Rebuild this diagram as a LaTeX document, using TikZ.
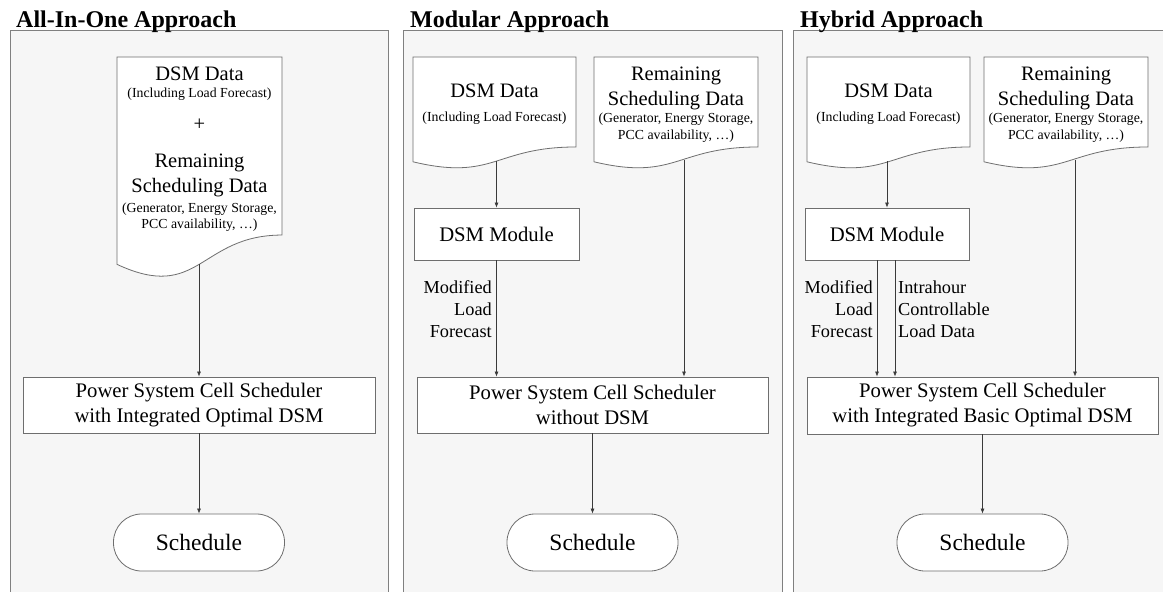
\documentclass[tikz,border=0pt]{standalone}
\usepackage{fontspec}
\setmainfont{Liberation Serif}
\usepackage{xcolor}
\usepackage{tikz}
\usetikzlibrary{positioning,arrows.meta}

\definecolor{panelfill}{HTML}{F6F6F6}
\definecolor{panelline}{HTML}{808080}
\definecolor{shapeline}{HTML}{6E6E6E}
\definecolor{arrowline}{HTML}{3A3A3A}

% document shape: left x, right x, height (top edge at y=57)
\newcommand{\docshape}[3]{%
  \draw [docline] (#1,57) -- (#2,57) -- (#2,{57+0.802*#3})
    .. controls ({(#1+#2)/2},{57+0.802*#3}) and ({(#1+#2)/2},{57+1.1075*#3}) .. (#1,{57+0.934*#3}) -- cycle;}

\begin{document}
\begin{tikzpicture}[x=1pt, y=-1pt,
    title/.style={anchor=base west, inner sep=0pt, font=\fontsize{24}{28}\selectfont\bfseries},
    bigline/.style={anchor=base, inner sep=0pt, font=\fontsize{20.5}{25}\selectfont},
    smallline/.style={anchor=base, inner sep=0pt, font=\fontsize{13.8}{17}\selectfont},
    lbl/.style={inner sep=0pt, font=\fontsize{18.3}{22}\selectfont},
    docline/.style={draw=shapeline, fill=white, line width=0.8pt},
    box/.style={draw=shapeline, fill=white, line width=0.8pt, inner sep=0pt, align=center,
      font=\fontsize{20.7}{25}\selectfont},
    terminal/.style={draw=shapeline, fill=white, line width=0.8pt, rounded corners=28pt,
      minimum width=171pt, minimum height=57pt, inner sep=0pt, font=\fontsize{23.5}{28}\selectfont},
    arr/.style={draw=arrowline, line width=0.7pt, -{Latex[length=5pt,width=4pt]}}]

    \useasboundingbox (0,0) rectangle (1163,592);

    % panels
    \fill [panelfill] (10,30) rectangle (388,592);
    \draw [panelline, line width=0.8pt] (10,592) -- (10,30) -- (388,30) -- (388,592);
    \fill [panelfill] (403,30) rectangle (782,592);
    \draw [panelline, line width=0.8pt] (403,592) -- (403,30) -- (782,30) -- (782,592);
    \fill [panelfill] (793,30) rectangle (1163,592);
    \draw [panelline, line width=0.8pt] (793,592) -- (793,30) -- (1163,30);

    \node [title] (ATitle) at (16,27) {All-In-One Approach};
    \node [title] (BTitle) at (410,27) {Modular Approach};
    \node [title] (CTitle) at (800,27) {Hybrid Approach};

    % all-in-one
    \docshape{117}{282}{222}
    \node [bigline] (ADocL1) at (199.5,80) {DSM Data};
    \node [smallline] (ADocL2) at (199.5,97) {(Including Load Forecast)};
    \node [bigline, anchor=center] (ADocPlus) at (199.5,125) {+};
    \node [bigline] (ADocL3) at (199.5,167) {Remaining};
    \node [bigline] (ADocL4) at (199.5,192) {Scheduling Data};
    \node [smallline] (ADocL5) at (199.5,212) {(Generator, Energy Storage,};
    \node [smallline] (ADocL6) at (199.5,228) {PCC availability, …)};
    \coordinate (ADocOut) at (199,264);

    \node [box, minimum width=352pt, minimum height=56pt] (ASch) at (199,405)
      {Power System Cell Scheduler\\with Integrated Optimal DSM};
    \node [terminal] (AOut) at (199,542.5) {Schedule};

    \draw [arr] (ADocOut) -- (ADocOut |- ASch.north);
    \draw [arr] (ASch.south) -- (AOut.north);

    % modular
    \docshape{413}{576}{112.2}
    \node [bigline] (BDoc1L1) at (494.5,97) {DSM Data};
    \node [smallline] (BDoc1L2) at (494.5,121) {(Including Load Forecast)};
    \coordinate (BDoc1Out) at (496.5,161);

    \docshape{594}{758}{112.2}
    \node [bigline] (BDoc2L1) at (676,80) {Remaining};
    \node [bigline] (BDoc2L2) at (676,105) {Scheduling Data};
    \node [smallline] (BDoc2L3) at (676,122) {(Generator, Energy Storage,};
    \node [smallline] (BDoc2L4) at (676,139) {PCC availability, …)};
    \coordinate (BDoc2Out) at (684,160);

    \node [box, minimum width=165pt, minimum height=52pt] (BMod) at (496.5,234) {DSM Module};
    \node [box, minimum width=351pt, minimum height=56pt] (BSch) at (592.5,405)
      {Power System Cell Scheduler\\without DSM};
    \node [terminal] (BOut) at (592.5,542.5) {Schedule};

    \draw [arr] (BDoc1Out) -- (BDoc1Out |- BMod.north);
    \draw [arr] (BMod.south) -- (BMod.south |- BSch.north);
    \draw [arr] (BDoc2Out) -- (BDoc2Out |- BSch.north);
    \draw [arr] (BSch.south) -- (BOut.north);

    \node [lbl, anchor=base east] (BLbl1) at (492,293) {Modified};
    \node [lbl, anchor=base east] (BLbl2) at (492,315) {Load};
    \node [lbl, anchor=base east] (BLbl3) at (492,337) {Forecast};

    % hybrid
    \docshape{807}{970}{112.2}
    \node [bigline] (CDoc1L1) at (888.5,97) {DSM Data};
    \node [smallline] (CDoc1L2) at (888.5,121) {(Including Load Forecast)};
    \coordinate (CDoc1Out) at (887,161);

    \docshape{984}{1148}{112.2}
    \node [bigline] (CDoc2L1) at (1066,80) {Remaining};
    \node [bigline] (CDoc2L2) at (1066,105) {Scheduling Data};
    \node [smallline] (CDoc2L3) at (1066,122) {(Generator, Energy Storage,};
    \node [smallline] (CDoc2L4) at (1066,139) {PCC availability, …)};
    \coordinate (CDoc2Out) at (1075,160);

    \node [box, minimum width=164pt, minimum height=52pt] (CMod) at (887,234) {DSM Module};
    \node [box, minimum width=351pt, minimum height=57pt] (CSch) at (982.5,405.5)
      {Power System Cell Scheduler\\with Integrated Basic Optimal DSM};
    \node [terminal] (COut) at (982.5,542.5) {Schedule};

    \draw [arr] (CDoc1Out) -- (CDoc1Out |- CMod.north);
    \draw [arr] ([xshift=-10pt]CMod.south) -- ([xshift=-10pt]CMod.south |- CSch.north);
    \draw [arr] ([xshift=8pt]CMod.south) -- ([xshift=8pt]CMod.south |- CSch.north);
    \draw [arr] (CDoc2Out) -- (CDoc2Out |- CSch.north);
    \draw [arr] (CSch.south) -- (COut.north);

    \node [lbl, anchor=base east] (CLbl1) at (873,293) {Modified};
    \node [lbl, anchor=base east] (CLbl2) at (873,315) {Load};
    \node [lbl, anchor=base east] (CLbl3) at (873,337) {Forecast};
    \node [lbl, anchor=base west] (CLbl4) at (898,293) {Intrahour};
    \node [lbl, anchor=base west] (CLbl5) at (898,315) {Controllable};
    \node [lbl, anchor=base west] (CLbl6) at (898,337) {Load Data};
  \end{tikzpicture}
\end{document}
